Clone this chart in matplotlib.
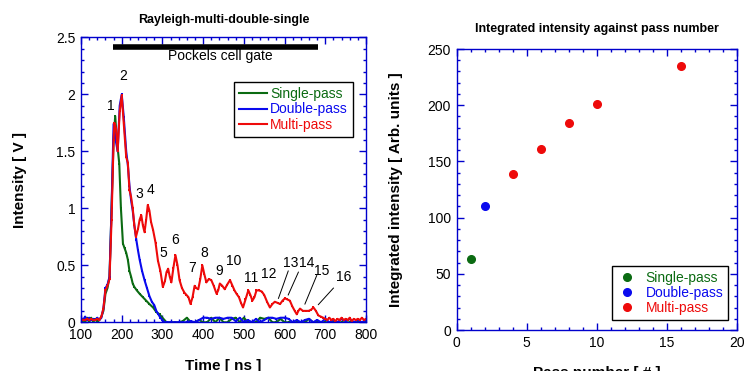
import matplotlib.pyplot as plt
from matplotlib.ticker import MultipleLocator, FuncFormatter

plt.rcParams['font.family'] = ['Liberation Sans', 'DejaVu Sans']

GREEN = '#0b6b12'
BLUE = '#0a0aee'
RED = '#ee0a0a'
AXIS_BLUE = '#0000cc'

# --- oscilloscope traces (time in ns, intensity in V) ---
t_single = [100, 105, 110, 115, 120, 125, 130, 135, 140, 145, 150, 155, 160, 165, 170, 175,
            180, 184, 188, 194, 198, 203, 207, 211, 215, 219, 223, 227, 231, 237, 244, 252,
            260, 268, 277, 285, 293, 300, 305,
            310, 320, 330, 340, 350, 360, 370, 380, 390, 400, 410, 420, 430, 440, 450, 460,
            470, 480, 490, 500, 510, 520, 530, 540, 550, 560, 570, 580, 590, 600, 610, 620,
            630, 640, 650, 660, 670, 680, 690, 700, 710, 720, 730, 740, 750, 760, 770, 780,
            790, 800]
v_single = [0.0, 0.02, 0.0, 0.04, 0.0, 0.04, 0.0, 0.03, 0.0, 0.02, 0.05, 0.1, 0.25, 0.3, 0.4, 1.0,
            1.6, 1.81, 1.6, 1.39, 1.0, 0.69, 0.65, 0.61, 0.55, 0.45, 0.4, 0.34, 0.31, 0.28, 0.25, 0.22,
            0.19, 0.16, 0.13, 0.09, 0.07, 0.04, 0.02,
            0.0, 0.0, 0.0, 0.0, 0.01, 0.04, 0.0, 0.0, 0.02, 0.0, 0.0, 0.04, 0.0, 0.04, 0.0, 0.0,
            0.03, 0.04, 0.0, 0.04, 0.0, 0.0, 0.0, 0.04, 0.03, 0.04, 0.0, 0.0, 0.03, 0.0, 0.0, 0.0,
            0.0, 0.0, 0.0, 0.03, 0.0, 0.0, 0.0, 0.0, 0.0, 0.0, 0.0, 0.0, 0.0, 0.0, 0.0, 0.0,
            0.0, 0.0]

t_double = [100, 105, 110, 115, 120, 125, 130, 135, 140, 145, 150, 155, 160, 165, 170, 175,
            180, 185, 190, 195, 200, 205, 211, 215, 219, 223, 227, 231, 236, 240, 244, 250,
            256, 262, 268, 274, 280, 285, 290, 295, 300, 305,
            310, 320, 330, 340, 350, 360, 370, 380, 390, 400, 410, 420, 430, 440, 450, 460,
            470, 480, 490, 500, 510, 520, 530, 540, 550, 560, 570, 580, 590, 600, 610, 620,
            630, 640, 650, 660, 670, 680, 690, 700, 710, 720, 730, 740, 750, 760, 770, 780,
            790, 800]
v_double = [0.04, 0.02, 0.05, 0.02, 0.04, 0.02, 0.03, 0.02, 0.04, 0.02, 0.04, 0.12, 0.3, 0.33, 0.4, 1.0,
            1.74, 1.6, 1.5, 1.9, 2.0, 1.8, 1.5, 1.38, 1.2, 1.07, 0.98, 0.85, 0.72, 0.63, 0.55, 0.45,
            0.37, 0.3, 0.23, 0.18, 0.15, 0.1, 0.07, 0.04, 0.02, 0.0,
            0.0, 0.0, 0.0, 0.0, 0.0, 0.0, 0.01, 0.0, 0.02, 0.04, 0.04, 0.03, 0.04, 0.04, 0.03, 0.04,
            0.04, 0.01, 0.04, 0.0, 0.02, 0.0, 0.03, 0.0, 0.02, 0.04, 0.04, 0.03, 0.04, 0.04, 0.03, 0.0,
            0.02, 0.0, 0.02, 0.03, 0.0, 0.02, 0.0, 0.03, 0.0, 0.02, 0.0, 0.03, 0.01, 0.03, 0.0, 0.02,
            0.0, 0.02]

t_multi = [100, 105, 110, 115, 120, 125, 130, 135, 140, 145, 150, 155, 160, 165, 170, 175,
           180, 182, 186, 190, 195, 200, 205, 211, 215, 219, 223, 227, 231, 235, 240, 244,
           248, 252, 256, 260, 264, 268, 272, 277, 283, 289, 295, 301, 306, 310, 314, 318,
           322, 327, 332, 337, 342, 348, 354, 359, 364, 369, 374, 379, 383, 388, 393, 398,
           403, 408, 414, 420, 426, 433, 437, 441, 447, 453, 459, 466, 472, 477, 482, 488,
           493, 498, 504, 511, 516, 521, 526, 531, 537, 544, 550, 557, 564, 570, 576, 583,
           589, 595, 601, 607, 613, 619, 625, 630, 634, 638, 645, 652, 659, 665, 671, 677,
           683, 689, 695, 700, 705, 710, 715, 720, 725, 730, 735, 740, 745, 750, 755, 760,
           765, 770, 775, 780, 785, 790, 795, 800]
v_multi = [0.03, 0.02, 0.02, 0.03, 0.02, 0.03, 0.02, 0.02, 0.03, 0.02, 0.05, 0.12, 0.28, 0.32, 0.38, 0.9,
           1.6, 1.75, 1.7, 1.5, 1.85, 1.99, 1.75, 1.45, 1.4, 1.16, 1.1, 1.0, 0.85, 0.75, 0.82, 0.9,
           0.94, 0.85, 0.79, 0.9, 1.03, 0.98, 0.88, 0.81, 0.7, 0.54, 0.45, 0.31, 0.36, 0.44, 0.47, 0.4,
           0.35, 0.48, 0.59, 0.5, 0.37, 0.3, 0.26, 0.24, 0.22, 0.16, 0.22, 0.32, 0.3, 0.29, 0.38, 0.5,
           0.42, 0.35, 0.38, 0.37, 0.32, 0.25, 0.28, 0.34, 0.32, 0.29, 0.33, 0.37, 0.32, 0.28, 0.25, 0.22,
           0.17, 0.13, 0.2, 0.28, 0.24, 0.19, 0.22, 0.28, 0.28, 0.27, 0.24, 0.18, 0.13, 0.16, 0.18, 0.17,
           0.16, 0.19, 0.21, 0.2, 0.19, 0.14, 0.1, 0.07, 0.1, 0.12, 0.1, 0.1, 0.1, 0.11, 0.13, 0.1,
           0.06, 0.05, 0.04, 0.03, 0.02, 0.04, 0.02, 0.03, 0.01, 0.03, 0.02, 0.04, 0.02, 0.03, 0.02, 0.04,
           0.01, 0.03, 0.02, 0.03, 0.02, 0.04, 0.02, 0.03]

# pass-peak labels: (label, time, intensity)
peak_names = ['1', '2', '3', '4', '5', '6', '7', '8', '9', '10', '11', '12']
peak_t = [174, 203, 244, 270, 303, 332, 373, 402, 439, 474, 517, 562]
peak_v = [1.90, 2.16, 1.13, 1.16, 0.61, 0.72, 0.48, 0.61, 0.45, 0.54, 0.39, 0.42]

# labels with leader lines: text position and target on the trace
lead_names = ['13', '14', '15', '16']
lead_text_t = [614, 655, 692, 745]
lead_text_v = [0.52, 0.52, 0.45, 0.40]
lead_start_t = [609, 634, 679, 720]
lead_start_v = [0.45, 0.44, 0.41, 0.30]
lead_end_t = [585, 609, 650, 683]
lead_end_v = [0.21, 0.24, 0.16, 0.155]

gate_t = [178, 683]
gate_v = 2.416
gate_label_t = 443

# --- integrated intensity vs pass number ---
pass_single = [1]
int_single = [63.2]
pass_double = [2]
int_double = [110]
pass_multi = [4, 6, 8, 10, 16]
int_multi = [138.8, 161.3, 183.9, 201.4, 234.6]


def style_axes(ax, xmaj, xmin, ymaj, ymin):
    for s in ax.spines.values():
        s.set_color(AXIS_BLUE)
        s.set_linewidth(1.0)
    ax.xaxis.set_major_locator(MultipleLocator(xmaj))
    ax.xaxis.set_minor_locator(MultipleLocator(xmin))
    ax.yaxis.set_major_locator(MultipleLocator(ymaj))
    ax.yaxis.set_minor_locator(MultipleLocator(ymin))
    ax.tick_params(which='both', direction='in', top=True, right=True,
                   color=AXIS_BLUE, labelcolor='black', labelsize=10, width=1.0)
    ax.tick_params(which='major', length=5, pad=4)
    ax.tick_params(which='minor', length=2.5)
    ax.yaxis.set_major_formatter(FuncFormatter(lambda v, p: f'{v:g}'))


def color_legend_text(leg, colors):
    for txt, c in zip(leg.get_texts(), colors):
        txt.set_color(c)
    leg.get_frame().set_edgecolor('black')
    leg.get_frame().set_linewidth(1.0)


fig = plt.figure(figsize=(7.44, 3.71), dpi=100)
ax1 = fig.add_axes([0.1089, 0.1313, 0.383, 0.768])
ax2 = fig.add_axes([0.6138, 0.1105, 0.3763, 0.7574])

# left: time traces, small square markers at the sample points
trace_kw = dict(lw=1.5, marker='s', ms=1.6, markeredgewidth=0)
ax1.plot(t_single, v_single, color=GREEN, label='Single-pass', **trace_kw)
ax1.plot(t_double, v_double, color=BLUE, label='Double-pass', **trace_kw)
ax1.plot(t_multi, v_multi, color=RED, label='Multi-pass', **trace_kw)
ax1.set_xlim(100, 800)
ax1.set_ylim(0, 2.5)
style_axes(ax1, 100, 20, 0.5, 0.1)

ax1.plot(gate_t, [gate_v, gate_v], color='black', lw=4, solid_capstyle='butt')
ax1.text(gate_label_t, gate_v - 0.08, 'Pockels cell gate', ha='center', va='center', fontsize=10)

for name, t, v in zip(peak_names, peak_t, peak_v):
    ax1.text(t, v, name, ha='center', va='center', fontsize=10)
for i, name in enumerate(lead_names):
    ax1.text(lead_text_t[i], lead_text_v[i], name, ha='center', va='center', fontsize=10)
    ax1.plot([lead_start_t[i], lead_end_t[i]], [lead_start_v[i], lead_end_v[i]], color='black', lw=0.7)

ax1.set_title('Rayleigh-multi-double-single', fontsize=9, fontweight='bold', pad=10)
ax1.set_xlabel('Time [ ns ]', fontsize=11, fontweight='bold', labelpad=12)
ax1.set_ylabel('Intensity [ V ]', fontsize=11, fontweight='bold', labelpad=21)

leg1 = ax1.legend(loc='upper right', bbox_to_anchor=(0.955, 0.845), fontsize=10, fancybox=False,
                  framealpha=1, handlelength=2.0, handletextpad=0.2, borderpad=0.4,
                  labelspacing=0.1, borderaxespad=0, markerscale=0)
color_legend_text(leg1, [GREEN, BLUE, RED])

# right: integrated intensity
ax2.plot(pass_single, int_single, 'o', color=GREEN, ms=5.5, label='Single-pass')
ax2.plot(pass_double, int_double, 'o', color=BLUE, ms=5.5, label='Double-pass')
ax2.plot(pass_multi, int_multi, 'o', color=RED, ms=5.5, label='Multi-pass')
ax2.set_xlim(0, 20)
ax2.set_ylim(0, 250)
style_axes(ax2, 5, 1, 50, 10)

ax2.set_title('Integrated intensity against pass number', fontsize=9, fontweight='bold', pad=12)
ax2.set_xlabel('Pass number [ # ]', fontsize=11, fontweight='bold', labelpad=12)
ax2.set_ylabel('Integrated intensity [ Arb. units ]', fontsize=11, fontweight='bold', labelpad=18)

leg2 = ax2.legend(loc='lower right', bbox_to_anchor=(0.97, 0.035), fontsize=10, fancybox=False,
                  framealpha=1, handlelength=1.5, handletextpad=0.6, borderpad=0.35,
                  labelspacing=0.1, borderaxespad=0)
color_legend_text(leg2, [GREEN, BLUE, RED])

fig.savefig('out.png', dpi=100)
